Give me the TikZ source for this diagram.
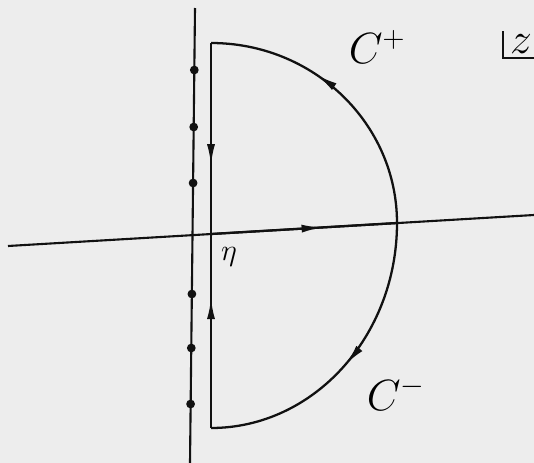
\documentclass[tikz,border=0pt]{standalone}
\usepackage{tikz}
\usetikzlibrary{arrows.meta,decorations.markings}
\definecolor{cpPaper}{HTML}{EDEDED}
\definecolor{cpInk}{HTML}{111111}
\tikzset{
  axis line/.style={line width=1.2pt, cpInk},
  contour/.style={line width=1.3pt, cpInk},
  pole/.style={circle, fill=cpInk, inner sep=0pt, minimum size=5pt},
  flow at/.style={postaction={decorate}, decoration={markings,
      mark=at position #1 with {\arrow{Latex[length=4.2mm,width=1.6mm]}}}},
  biglabel/.style={font=\fontsize{25}{30}\selectfont, inner sep=0pt}
}

\begin{document}
\begin{tikzpicture}[x=0.02cm, y=-0.02cm]
    % Page
    \fill[cpPaper] (0,0) rectangle (534,463);
    \useasboundingbox (0,0) rectangle (534,463);

    % Axes
    \coordinate (west) at (8,246);
    \coordinate (east) at (534,215);
    \coordinate (north) at (195,8);
    \coordinate (south) at (190,463);
    \draw[axis line] (west) -- (east);
    \draw[axis line] (north) -- (south);

    % Poles on the imaginary axis
    \node[pole] at (194.3,70) (pole1) {};
    \node[pole] at (193.7,127) (pole2) {};
    \node[pole] at (193.1,183) (pole3) {};
    \node[pole] at (191.9,294) (pole4) {};
    \node[pole] at (191.3,348) (pole5) {};
    \node[pole] at (190.6,404) (pole6) {};

    % Contour corners
    \coordinate (top) at (211,43);
    \coordinate (bot) at (211,428);
    \coordinate (orig) at (211,234);
    \coordinate (rim) at (397,223);

    % Contour C+ and C-
    \draw[contour, flow at=0.64] (top) -- (orig);
    \draw[contour, flow at=0.67] (bot) -- (orig);
    \draw[contour, flow at=0.6] (orig) -- (rim);
    \draw[contour, flow at=0.61] (rim) .. controls (397,123.6) and (313.7,43) .. (top);
    \draw[contour, flow at=0.5] (rim) .. controls (397,336) and (313.7,428) .. (bot);

    % Labels
    \node[biglabel] at (377,47) (cplus) {$C^{+}$};
    \node[biglabel] at (396,394) (cminus) {$C^{-}$};
    \node[font=\fontsize{16}{19}\selectfont, inner sep=0pt] at (229,257) (eta) {$\eta$};
    \node[biglabel] at (521,44) (zlab) {$z$};
    \draw[line width=1pt, cpInk] (503,31) -- (503,58) -- (534,58);
\end{tikzpicture}
\end{document}
